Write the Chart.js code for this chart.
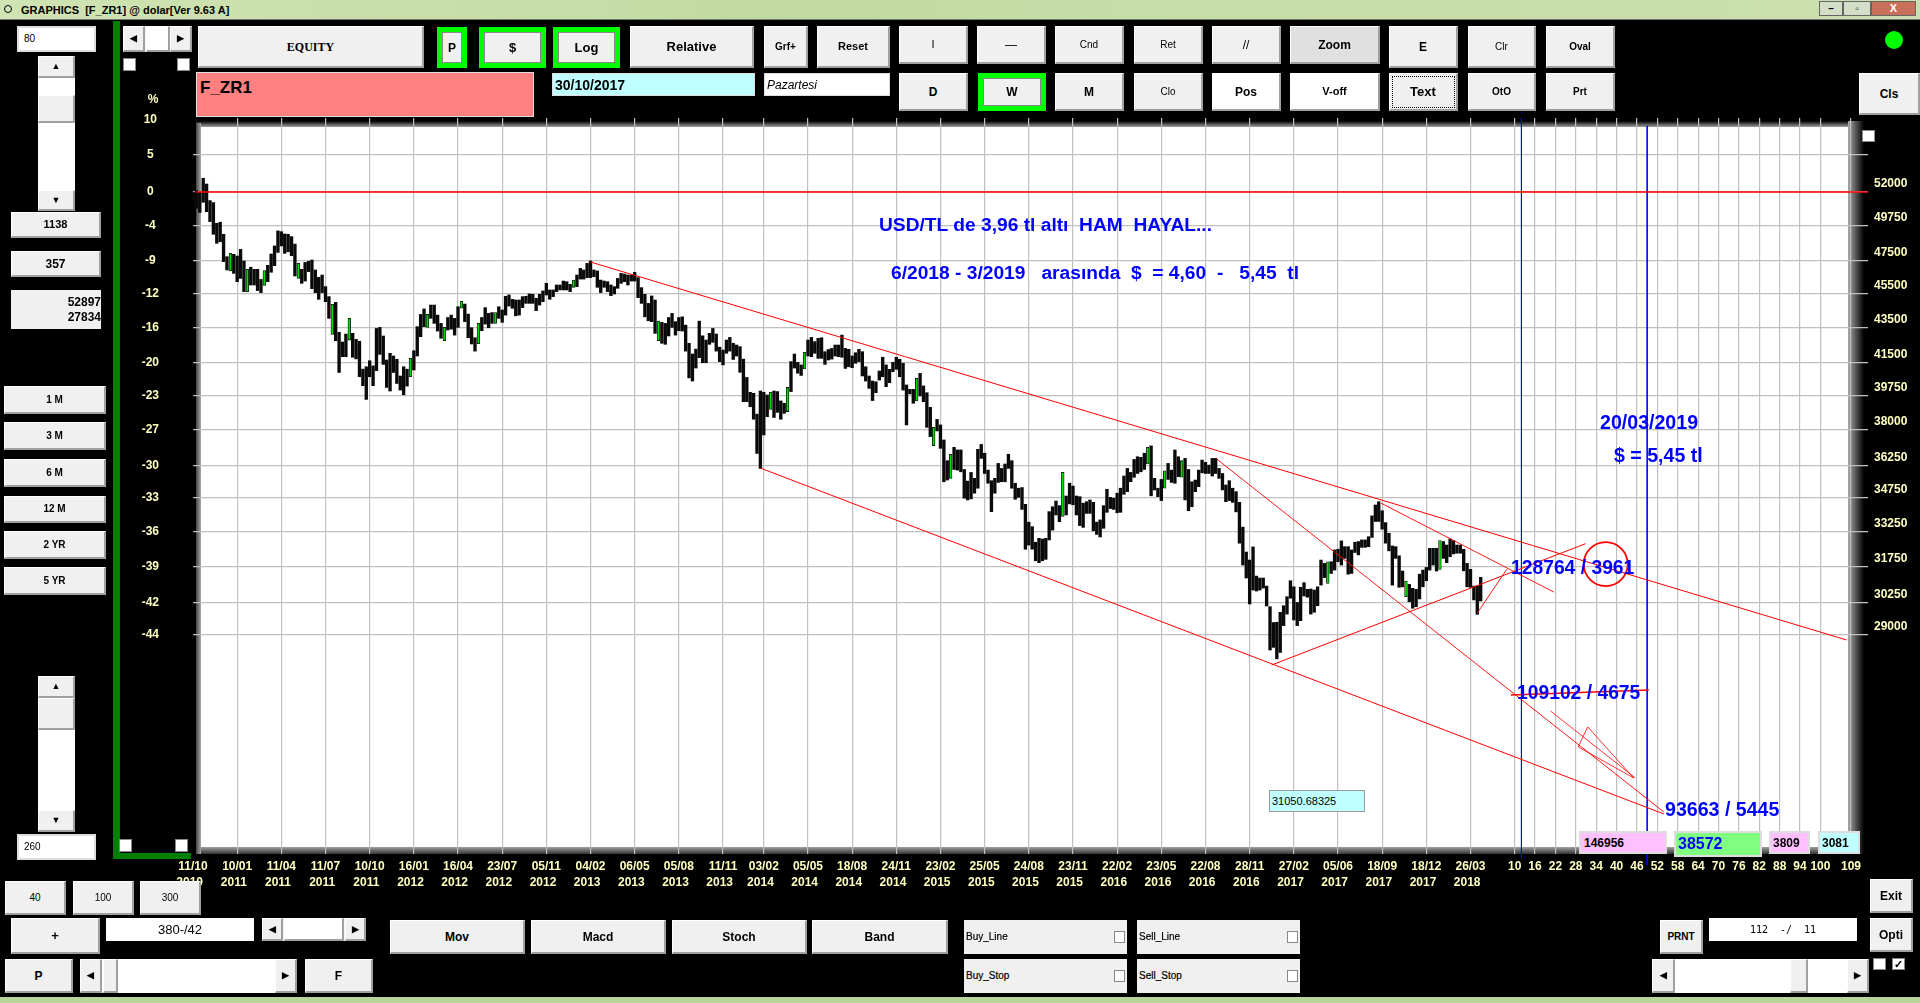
<!DOCTYPE html>
<html><head><meta charset="utf-8">
<style>
html,body{margin:0;padding:0;background:#000;width:1920px;height:1003px;overflow:hidden}
#c{position:absolute;left:0;top:0}
.u{position:absolute;box-sizing:border-box;display:flex;align-items:center;justify-content:center;font-family:"Liberation Sans",Arial,sans-serif;color:#000;white-space:pre;line-height:1}
.t{position:absolute;font-family:"Liberation Sans",Arial,sans-serif;font-weight:bold;color:#0000ff;white-space:pre;line-height:1;transform:translateY(-50%)}
</style>
<script src="https://cdn.jsdelivr.net/npm/chart.js@4"></script>
</head><body>
<canvas id="c" width="1920" height="1003"></canvas>
<script>
// ---------- data ----------
const barHigh = [
52095,51980,52950,52550,51415,51280,49900,49970,49180,47750,
47960,47900,47790,48210,47480,46960,47090,46960,46960,46340,
46880,47210,47920,48430,49400,49350,49200,49180,49030,48550,
47330,46960,47390,47460,47540,46920,46470,46610,45900,45300,
44840,44960,43220,42670,43120,44020,43160,42820,42710,41170,
41300,41630,41350,43440,43500,43010,41670,42040,41890,41710,
40800,41300,41170,41760,42180,43540,44250,44570,44250,44800,
44800,44210,43730,43500,44070,44210,44020,44700,45020,44860,
44270,43480,42910,43730,44070,44650,44310,44360,44360,44700,
44510,45320,45400,45140,45100,45100,45300,45320,45460,45440,
45200,45440,45640,46100,45700,45700,46000,46000,46240,46200,
46040,46300,46610,47020,46920,47330,47480,46920,46860,46300,
46240,46200,46000,45900,46400,46710,46670,46610,46610,46770,
46450,45840,45440,44900,45340,45100,43860,43790,43730,44070,
44310,43830,44070,44110,43630,42600,42000,42270,43860,43020,
42780,43160,43440,43120,42380,42220,42780,42930,42600,42500,
42410,41720,40720,39930,39880,38800,40000,39930,39790,39930,
40000,39970,39480,39360,40190,41580,42000,41540,41400,42090,
42780,42930,42690,42880,42910,42130,42250,42310,42500,42500,
43060,42310,42260,41890,42070,42260,42130,41300,40800,40530,
40490,41070,41820,41400,41160,41540,41820,41710,41490,40320,
40090,40090,40670,40940,40270,39910,39150,38130,38530,38250,
37500,36490,36800,37140,37010,37010,36070,35520,35930,35650,
37040,37280,36850,36040,35540,35650,36360,36120,36330,36800,
36490,35420,35190,35220,34450,33650,33450,32770,32940,32910,
32940,34120,34340,34600,34390,35930,34830,35420,35290,34830,
34800,34500,34570,34650,34540,33650,33750,34390,35140,34770,
34730,34960,35190,35760,36120,35930,36550,36680,36650,36850,
37140,37210,35650,35190,35600,36010,36360,36040,37010,36680,
36490,36600,36070,35490,35570,36040,36520,36410,36280,36600,
36600,36120,35880,35340,35540,35190,35030,34540,33430,32350,
32010,32570,31340,31260,31260,30930,30100,29480,29490,29880,
30140,30500,31150,30900,30270,30880,31070,30800,30810,30770,
30900,32010,31870,31940,31940,32440,32470,32830,32580,32580,
32440,32770,32800,32870,32870,33010,33930,34420,34570,34160,
33630,33160,32610,32580,32190,31550,31140,31000,30840,30800,
31420,31590,31700,32510,32510,32510,32840,32800,32650,32910,
32840,32650,32650,32470,31870,31620,30930,30930,31290];
const barLow = [
50895,50620,51300,50670,50010,49180,48600,48700,47440,46920,
46880,46710,46200,46400,45600,45600,46000,46000,45660,45540,
45980,46200,46780,47190,48020,48430,47960,48060,47810,46550,
46400,46100,46240,46820,45780,45540,45140,45540,45000,44020,
43100,42740,40990,41850,41850,42780,41820,41730,40760,40280,
39560,40760,40280,41090,41980,41430,40190,40000,40990,40400,
40050,39800,40260,40760,41120,41890,42970,43540,43500,44020,
43730,43290,42880,42740,43350,43400,43060,43500,44610,43830,
42910,42560,42160,42580,43310,43690,43480,43730,43730,44020,
43790,44210,44740,44610,44170,44210,44650,44900,44900,44900,
44470,44800,45000,45400,45140,45300,45600,45700,45700,45700,
45600,45860,45900,46360,46360,46450,46450,46510,45860,45540,
45860,45600,45360,45460,45800,46100,46200,46000,46240,46240,
45240,44900,44110,43880,43830,43160,42740,42600,42540,43010,
43500,43060,43310,43290,42160,40700,40530,41230,41800,41520,
41520,42540,42650,42160,41580,41400,42040,42160,41700,41890,
41000,39440,39440,39180,38540,36840,36120,37750,38670,39040,
38630,38890,38540,38840,38930,39970,41230,40950,40830,41180,
41890,41850,42040,41760,41760,41430,41670,41720,41890,41850,
41820,41210,41300,41250,41490,41580,40800,40530,40140,39500,
39910,40580,40760,40230,40440,41030,41160,40760,40050,38250,
39850,39360,39480,39740,39440,38130,37670,37220,37950,37090,
35490,35570,35650,36070,36040,35960,34730,34650,34700,34960,
35190,36600,35880,35420,34120,34960,35460,35490,35490,36120,
35190,34680,34770,34220,32470,32650,32470,31980,31900,31980,
32040,32870,33300,33970,33670,33900,33970,34470,34430,33970,
33500,33420,34040,34040,33270,33110,33000,33380,34090,34260,
34220,34070,34090,34910,35030,35490,35700,35880,35960,36070,
36330,34840,35110,34800,34620,35190,35600,35460,35420,35730,
35700,34650,34160,34340,35030,35260,35910,35880,35880,35760,
35880,35650,35110,34570,34620,34540,34110,32730,31800,31260,
30210,30770,30730,30770,30850,30130,28430,28530,28100,28340,
29360,29810,30440,29580,29360,29550,30530,30480,29810,29880,
30140,30970,31280,31040,31450,31590,31940,31800,32080,31420,
31450,32330,32230,32550,32550,32580,32980,33680,33680,33340,
32730,32400,30970,32080,30880,30900,30500,30300,30040,30100,
30410,30900,31150,31590,31800,31550,31620,32080,31900,32150,
32270,32300,32300,31560,30900,30880,30370,29800,30330];
const greenBars = [11,16,21,31,41,46,64,69,74,79,84,89,112,137,170,175,180,213,218,223,256,281,286,291,334,357,367];

const pctLabels = ["10","5","0","-4","-9","-12","-16","-20","-23","-27","-30","-33","-36","-39","-42","-44"];
const gridPrices = [57200,54600,52000,49750,47500,45500,43500,41500,39750,38000,36250,34750,33250,31750,30250,29000];
const priceLabels = [52000,49750,47500,45500,43500,41500,39750,38000,36250,34750,33250,31750,30250,29000];

const dateLabels = ["11/10","10/01","11/04","11/07","10/10","16/01","16/04","23/07","05/11","04/02","06/05","05/08","11/11","03/02","05/05","18/08","24/11","23/02","25/05","24/08","23/11","22/02","23/05","22/08","28/11","27/02","05/06","18/09","18/12","26/03"];
const yearLabels = ["2010","2011","2011","2011","2011","2012","2012","2012","2012","2013","2013","2013","2013","2014","2014","2014","2014","2015","2015","2015","2015","2016","2016","2016","2016","2017","2017","2017","2017","2018"];
const dateWeeks = [0,13,26,39,52,65,78,91,104,117,130,143,156,168,181,194,207,220,233,246,259,272,285,298,311,324,337,350,363,376];
const futureLabels = [10,16,22,28,34,40,46,52,58,64,70,76,82,88,94,100,109];
const futureStart = 379;

const zeroLine   = [[0.8,52000],[493,52000]];
const channelTop = [[117,47416],[486.7,28810]];
const channelLow = [[167.1,36130],[432.9,22905]];
const fallLine   = [[301.3,36570],[432.9,22964]];
const riseLine   = [[317.5,27875],[409.9,32710]];
const fall2Line  = [[349.6,34510],[400.5,30690]];
const hookLine   = [[378,29850],[386.7,31630]];
const levelLine  = [[387.9,26795],[428.5,26970]];
const arrowLine  = [[399.6,26230],[424.5,24020]];
const arrowHead  = [[407.7,25020],[410.5,25690],[424,24020],[407.7,25020]];
const blueLine1  = [[391,57328],[391,21610]];
const blueLine2  = [[428,56730],[428,21410]];
const ovalMark   = [[415.8,31840]];

// ---------- chart ----------
const yMax = 57328, yMin = 21727;
const lineSet = (pts,color,w,order)=>({type:'line',data:pts.map(p=>({x:p[0],y:p[1]})),borderColor:color,borderWidth:w,pointRadius:0,fill:false,tension:0,clip:false,xAxisID:'x',yAxisID:'y',order:order});
const frame = {
  id:'frame',
  beforeDraw(ch){
    const c=ch.ctx;
    c.save();
    c.fillStyle='#fff'; c.fillRect(196,123,1660,730);
    let g=c.createLinearGradient(0,121,0,127); g.addColorStop(0,'#000'); g.addColorStop(1,'#a0a0a0');
    c.fillStyle=g; c.fillRect(196,121,1667,6);
    g=c.createLinearGradient(0,847,0,854); g.addColorStop(0,'#a0a0a0'); g.addColorStop(1,'#333');
    c.fillStyle=g; c.fillRect(196,847,1667,7);
    g=c.createLinearGradient(196,0,201,0); g.addColorStop(0,'#444'); g.addColorStop(1,'#a8a8a8');
    c.fillStyle=g; c.fillRect(196,123,5,731);
    g=c.createLinearGradient(1848,0,1864,0); g.addColorStop(0,'#a8a8a8'); g.addColorStop(1,'#000');
    c.fillStyle=g; c.fillRect(1848,121,16,733);
    c.restore();
  }
};
const yellow='#ffffc0';
const tickFont={family:'"Liberation Sans",Arial,sans-serif',size:12,weight:'bold',lineHeight:16/12};
new Chart(document.getElementById('c'),{
  type:'bar',
  plugins:[frame],
  data:{datasets:[
    lineSet(zeroLine,'#ff0000',1.4,1),
    lineSet(channelTop,'#ff0000',1,1),
    lineSet(channelLow,'#ff0000',1,1),
    lineSet(fallLine,'#ff0000',0.9,1),
    lineSet(riseLine,'#ff0000',1,1),
    lineSet(fall2Line,'#ff0000',0.9,1),
    lineSet(hookLine,'#ff0000',0.9,1),
    lineSet(levelLine,'#ff0000',1.5,1),
    lineSet(arrowLine,'#ff0000',0.8,1),
    lineSet(arrowHead,'#ff0000',0.8,1),
    lineSet(blueLine1,'#0000ff',0.9,1),
    lineSet(blueLine2,'#0000ff',0.9,1),
    {type:'line',data:ovalMark.map(p=>({x:p[0],y:p[1]})),showLine:false,pointRadius:22,pointBorderWidth:1.8,pointBorderColor:'#ff0000',pointBackgroundColor:'transparent',xAxisID:'x',yAxisID:'y',order:1},
    {type:'bar',data:barHigh.map((h,k)=>({x:k+1,y:[barLow[k],h]})),xAxisID:'x',yAxisID:'y',barThickness:2.7,order:2,
      backgroundColor:barHigh.map((h,k)=>greenBars.includes(k+1)?'#00e000':'#0a0a0a'),
      borderColor:'#0a0a0a',borderWidth:barHigh.map((h,k)=>greenBars.includes(k+1)?0.8:0),borderSkipped:false}
  ]},
  options:{
    responsive:false,animation:false,devicePixelRatio:1,
    events:[],
    layout:{padding:{left:0,right:0,top:118,bottom:0}},
    plugins:{legend:{display:false},tooltip:{enabled:false},title:{display:false}},
    scales:{
      x:{type:'linear',position:'bottom',min:0,max:493,offset:false,
        afterBuildTicks(s){
          s.ticks=dateWeeks.map(v=>({value:v})).concat(futureLabels.map(n=>({value:futureStart+n})));
        },
        afterFit(s){s.height=149;},
        grid:{offset:false,drawTicks:false,lineWidth:1.2,color:c=>(c.tick&&c.tick.value===0)?'rgba(0,0,0,0)':'#c0c0c0'},
        border:{display:false},
        ticks:{autoSkip:false,maxRotation:0,minRotation:0,padding:5,color:yellow,font:tickFont,
          callback(v){
            const k=dateWeeks.indexOf(v);
            if(k>=0) return [dateLabels[k],yearLabels[k]+'  '];
            return String(v-futureStart);
          }}
      },
      yL:{type:'logarithmic',position:'left',min:yMin,max:yMax,
        afterBuildTicks(s){s.ticks=gridPrices.map(v=>({value:v}));},
        afterFit(s){s.width=193;},
        grid:{drawTicks:false,lineWidth:1.2,color:c=>(c.tick&&c.tick.value>57000)?'rgba(0,0,0,0)':'#c0c0c0'},
        border:{display:false},
        ticks:{autoSkip:false,crossAlign:'center',padding:34,color:yellow,font:tickFont,
          callback(v){const k=gridPrices.indexOf(v);return k>=0?pctLabels[k]:'';}}
      },
      y:{type:'logarithmic',position:'right',min:yMin,max:yMax,
        afterBuildTicks(s){s.ticks=priceLabels.map(v=>({value:v}));},
        afterFit(s){s.width=52;},
        grid:{display:false,drawTicks:false},
        border:{display:false},
        ticks:{autoSkip:false,crossAlign:'center',padding:6,labelOffset:-8,color:yellow,font:tickFont,
          callback(v){return String(v);}}
      }
    }
  }
});

// ---------- application chrome around the chart ----------
function box(x0,y0,x1,y1,txt,o){
  o=o||{};
  const d=document.createElement('div'); d.className='u';
  d.style.cssText+=`left:${x0}px;top:${y0}px;width:${x1-x0}px;height:${y1-y0}px;background:${o.bg||'#f0f0f0'};font-size:${o.fs||11}px;font-weight:${o.w||'bold'};`+
   (o.flat?'':'border-right:2px solid #a0a0a0;border-bottom:2px solid #a0a0a0;border-top:1px solid #fff;border-left:1px solid #fff;')+(o.css||'');
  if(o.serif) d.style.fontFamily='"Liberation Serif",serif';
  if(o.left){d.style.justifyContent='flex-start';d.style.paddingLeft=(o.left)+'px';}
  if(o.color) d.style.color=o.color;
  d.textContent=txt||'';
  document.body.appendChild(d); return d;
}
function greenBtn(x0,y0,x1,y1,txt,fs){
  box(x0,y0,x1,y1,txt,{bg:'#f0f0f0',fs:fs||13,css:'border:5px solid #00ff00;outline:1px solid #888;outline-offset:-6px;'});
}
function text(x,y,s,fs){const d=document.createElement('div');d.className='t';d.style.left=x+'px';d.style.top=y+'px';d.style.fontSize=fs+'px';d.textContent=s;document.body.appendChild(d);}

// title bar and bottom strip
box(0,0,1920,20,'',{flat:1,bg:'linear-gradient(90deg,#cfe3b3,#c2dba2 40%,#cbe0ae)',css:'border-bottom:1px solid #777;'});
box(20,2,260,19,'GRAPHICS  [F_ZR1] @ dolar[Ver 9.63 A]',{flat:1,bg:'transparent',fs:11,left:1,w:'bold'});
box(4,5,12,13,'',{flat:1,bg:'transparent',css:'border:1px solid #000;border-radius:50%;'});
box(1819,1,1843,16,'–',{flat:1,bg:'#d5dfc8',fs:10,css:'border:1px solid #666;'});
box(1843,1,1871,16,'▫',{flat:1,bg:'#d5dfc8',fs:10,css:'border:1px solid #666;'});
box(1871,1,1916,16,'X',{flat:1,bg:'#c8705a',fs:11,color:'#fff',css:'border:1px solid #666;'});
box(0,997,1920,1003,'',{flat:1,bg:'#b8d59a'});

// left column
box(113,21,120,859,'',{flat:1,bg:'#008000'});
box(113,853,191,859,'',{flat:1,bg:'#008000'});
box(17,26,96,52,'80',{flat:1,bg:'#fff',fs:10,left:5,w:'normal',css:'border:2px solid #ddd;'});
box(38,56,75,211,'',{flat:1,bg:'#fff'});
box(38,56,75,78,'▲',{fs:9});
box(38,95,75,123,'');
box(38,190,75,211,'▼',{fs:9});
box(11,212,101,238,'1138',{fs:11});
box(11,251,101,277,'357',{fs:12,w:'bold'});
box(11,290,101,329,'52897\n27834',{flat:1,fs:12,w:'bold',css:'justify-content:flex-end;text-align:right;line-height:15px;'});
[['1 M',386,414],['3 M',422,450],['6 M',459,487],['12 M',496,523],['2 YR',531,559],['5 YR',567,595]].forEach(b=>box(4,b[1],106,b[2],b[0],{fs:10}));
box(38,676,75,832,'',{flat:1,bg:'#fff'});
box(38,676,75,698,'▲',{fs:9});
box(38,698,75,730,'');
box(38,810,75,832,'▼',{fs:9});
box(17,834,96,860,'260',{flat:1,bg:'#fff',fs:10,left:5,w:'normal',css:'border:2px solid #ddd;'});
box(123,26,192,52,'',{flat:1,bg:'#f4f4f4'});
box(123,26,145,52,'◀',{fs:9}); box(170,26,192,52,'▶',{fs:9}); box(146,26,170,52,'',{bg:'#fff'});
[[123,58],[177,58],[119,839],[175,839]].forEach(p=>box(p[0],p[1],p[0]+13,p[1]+13,'',{flat:1,bg:'#fff',css:'border:1px solid #888;'}));
box(1862,130,1875,142,'',{flat:1,bg:'#fff',css:'border:1px solid #888;'});
const pct=document.createElement('div');pct.className='u';pct.style.cssText+='left:143px;top:92px;width:20px;height:14px;color:#ffffc0;font-size:12px;font-weight:bold;';pct.textContent='%';document.body.appendChild(pct);

// top buttons
box(198,26,424,68,'EQUITY',{serif:1,fs:12});
greenBtn(437,27,467,68,'P',12); greenBtn(479,27,546,68,'$',13); greenBtn(553,27,620,68,'Log',13);
box(630,26,754,68,'Relative',{fs:13});
box(764,26,808,68,'Grf+',{fs:10});
box(817,26,890,68,'Reset',{fs:11});
box(899,26,968,64,'I',{fs:11,w:'normal'});
box(977,26,1046,64,'—',{fs:12,w:'normal'});
box(1055,26,1124,64,'Cnd',{fs:10,w:'normal'});
box(1134,26,1203,64,'Ret',{fs:10,w:'normal'});
box(1212,26,1281,64,'//',{fs:12,w:'normal'});
box(1290,26,1380,64,'Zoom',{bg:'#e0e0e0',fs:12});
box(1389,26,1458,68,'E',{fs:12});
box(1468,26,1536,68,'Clr',{fs:10,w:'normal'});
box(1546,26,1615,68,'Oval',{fs:10});
box(899,73,968,111,'D',{fs:12});
greenBtn(978,73,1046,111,'W',12);
box(1055,73,1124,111,'M',{fs:12});
box(1134,73,1203,111,'Clo',{fs:10,w:'normal'});
box(1212,73,1281,111,'Pos',{bg:'#fff',fs:12});
box(1290,73,1380,111,'V-off',{bg:'#fff',fs:11});
box(1389,73,1458,111,'Text',{fs:13,css:'outline:1px dotted #000;outline-offset:-4px;'});
box(1468,73,1536,111,'OtO',{fs:10});
box(1546,73,1615,111,'Prt',{fs:10});
box(196,72,534,117,'F_ZR1',{flat:1,bg:'#ff8080',fs:17,left:3,css:'align-items:flex-start;padding-top:6px;border:1px solid #ddd;'});
box(552,73,755,96,'30/10/2017',{flat:1,bg:'#bfffff',fs:14,left:2,css:'border:1px solid #ddd;'});
box(764,73,890,96,'Pazartesi',{flat:1,bg:'#fff',fs:12,left:2,w:'normal',css:'font-style:italic;border:1px solid #ddd;'});
box(1885,31,1903,49,'',{flat:1,bg:'#00ff00',css:'border-radius:50%;'});
box(1859,73,1920,115,'Cls',{fs:12});

// bottom controls
box(5,881,66,915,'40',{fs:10,w:'normal'}); box(73,881,134,915,'100',{fs:10,w:'normal'}); box(140,881,201,915,'300',{fs:10,w:'normal'});
box(11,918,100,954,'+',{fs:13});
box(106,918,254,941,'380-/42',{flat:1,bg:'#fff',fs:13,w:'normal'});
box(262,918,366,941,'',{flat:1,bg:'#f4f4f4'});box(262,918,283,941,'◀',{fs:9});box(345,918,366,941,'▶',{fs:9});box(284,918,344,941,'',{bg:'#fff'});
box(5,959,73,993,'P',{fs:12});
box(80,959,297,993,'',{flat:1,bg:'#fff'});box(80,959,102,993,'◀',{fs:9});box(275,959,297,993,'▶',{fs:9});box(103,959,118,993,'');
box(305,959,373,993,'F',{fs:12});
[['Mov',390,525],['Macd',531,666],['Stoch',672,807],['Band',812,948]].forEach(b=>box(b[1],920,b[2],954,b[0],{fs:12}));
[['Buy_Line',964,1127,920],['Sell_Line',1137,1300,920],['Buy_Stop',964,1127,959],['Sell_Stop',1137,1300,959]].forEach(b=>{
  box(b[1],b[3],b[2],b[3]+34,b[0],{flat:1,fs:10,left:2,w:'normal',css:'justify-content:flex-start;-webkit-text-stroke:0.2px #000;'});
  box(b[2]-13,b[3]+11,b[2]-2,b[3]+23,'',{flat:1,bg:'#fff',css:'border:1px solid #888;'});
});
box(1660,920,1703,954,'PRNT',{fs:10});
box(1709,918,1857,941,'112  -/  11',{flat:1,bg:'#fff',fs:10,w:'normal',css:'font-family:"DejaVu Sans Mono",monospace;'});
box(1870,879,1913,913,'Exit',{fs:12});
box(1870,918,1913,952,'Opti',{fs:12});
box(1873,958,1886,970,'',{flat:1,bg:'#fff',css:'border:1px solid #888;'});
box(1892,958,1905,970,'✓',{flat:1,bg:'#fff',fs:11,css:'border:1px solid #888;'});
box(1652,959,1869,993,'',{flat:1,bg:'#fff'});box(1652,959,1675,993,'◀',{fs:9});box(1847,959,1869,993,'▶',{fs:9});box(1790,959,1808,993,'');

// boxes in the plot
box(1269,790,1365,812,'31050.68325',{flat:1,bg:'#bfffff',fs:11,left:2,w:'normal',css:'border:1px solid #999;'});
box(1579,831,1667,854,'146956',{flat:1,bg:'#ffc0ff',fs:12,left:3,css:'border:2px solid #ddd;'});
box(1674,831,1762,857,'38572',{flat:1,bg:'#80ff80',fs:16,left:2,color:'#0000ff',css:'border:2px solid #ddd;'});
box(1769,831,1810,854,'3809',{flat:1,bg:'#ffc0ff',fs:12,left:2,css:'border:2px solid #ddd;'});
box(1818,831,1860,854,'3081',{flat:1,bg:'#bfffff',fs:12,left:2,css:'border:2px solid #ddd;'});

// blue notes
text(879,225,'USD/TL de 3,96 tl altı  HAM  HAYAL...',19.2);
text(891,273,'6/2018 - 3/2019   arasında  $  = 4,60  -   5,45  tl',19.2);
text(1600,423,'20/03/2019',19.6);
text(1614,456,'$ = 5,45 tl',19.6);
text(1511,568,'128764 / 3961',19.3);
text(1517,693,'109102 / 4675',19.3);
text(1665,810,'93663 / 5445',19.6);
</script>
</body></html>
